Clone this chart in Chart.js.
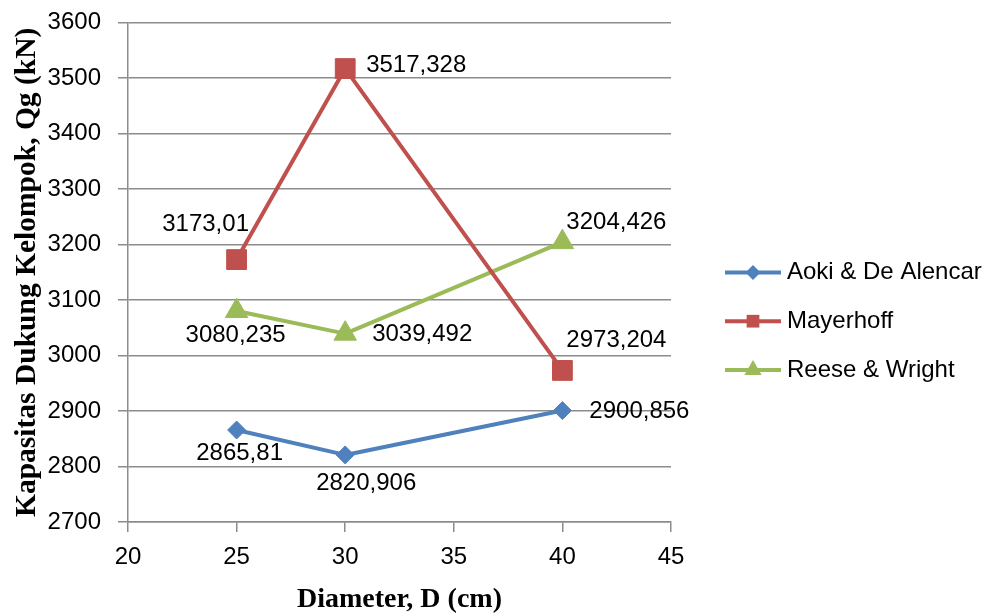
<!DOCTYPE html>
<html>
<head>
<meta charset="utf-8">
<script src="https://cdn.jsdelivr.net/npm/chart.js@4.4.1/dist/chart.umd.min.js"></script>
<style>
  html, body { margin: 0; padding: 0; background: #ffffff; }
  #wrap { width: 987px; height: 614px; }
</style>
</head>
<body>
<div id="wrap"><canvas id="chart" width="987" height="614"></canvas></div>
<script>
// Pile group capacity by pile diameter
const diameters = [25, 30, 40];
const aokiDeAlencar = [2865.81, 2820.906, 2900.856];
const mayerhoff = [3173.01, 3517.328, 2973.204];
const reeseWright = [3080.235, 3039.492, 3204.426];
const seriesNames = ['Aoki & De Alencar', 'Mayerhoff', 'Reese & Wright'];
const xTickValues = [20, 25, 30, 35, 40, 45];
const yTickValues = [2700, 2800, 2900, 3000, 3100, 3200, 3300, 3400, 3500, 3600];
const xAxisTitle = 'Diameter, D (cm)';
const yAxisTitle = 'Kapasitas Dukung Kelompok, Qg (kN)';

// Styling
const seriesValues = [aokiDeAlencar, mayerhoff, reeseWright];
const seriesColors = ['#4F81BD', '#C0504D', '#9BBB59'];
const markerStyles = ['rectRot', 'rect', 'triangle'];
const markerRadius = [9, 14, 13];
const legendMarkerRadius = [7.5, 9, 10];
const gridColor = '#8c8c8c';
const sansFont = "'Liberation Sans', Arial, sans-serif";
const serifFont = "'Liberation Serif', 'Times New Roman', serif";
// value label placement [dx, dy] from each point, text centred
const labelOffsets = [
  [[3, 23], [21, 28], [77, 1]],
  [[-31, -35], [71, -3], [54, -30]],
  [[-1, 24], [77, 1], [54, -20]]
];
const legendLayout = { lineX1: 725, lineX2: 781, textX: 787, firstY: 272.5, rowGap: 48.7 };

function formatValue(v) {
  return String(v).replace('.', ',');
}

function drawMarker(ctx, style, radius, x, y) {
  if (Chart.helpers && Chart.helpers.drawPoint) {
    Chart.helpers.drawPoint(ctx, { pointStyle: style, radius: radius, rotation: 0, borderWidth: 0 }, x, y);
    return;
  }
  ctx.beginPath();
  if (style === 'rect') {
    const s = Math.SQRT1_2 * radius;
    ctx.rect(x - s, y - s, 2 * s, 2 * s);
  } else if (style === 'rectRot') {
    ctx.moveTo(x - radius, y); ctx.lineTo(x, y - radius);
    ctx.lineTo(x + radius, y); ctx.lineTo(x, y + radius);
  } else {
    for (let k = 0; k < 3; k++) {
      const a = k * 2 * Math.PI / 3;
      const px = x + Math.sin(a) * radius, py = y - Math.cos(a) * radius;
      if (k === 0) ctx.moveTo(px, py); else ctx.lineTo(px, py);
    }
  }
  ctx.closePath();
  ctx.fill();
}

// Value labels next to each point
const valueLabels = {
  id: 'valueLabels',
  afterDatasetsDraw(chart) {
    const ctx = chart.ctx;
    ctx.save();
    ctx.font = '24px ' + sansFont;
    ctx.fillStyle = '#000000';
    ctx.textAlign = 'center';
    ctx.textBaseline = 'middle';
    chart.data.datasets.forEach((ds, i) => {
      const meta = chart.getDatasetMeta(i);
      meta.data.forEach((pt, j) => {
        const off = labelOffsets[i][j];
        ctx.fillText(formatValue(ds.data[j].y), pt.x + off[0], pt.y + off[1]);
      });
    });
    ctx.restore();
  }
};

// Legend on the right: line segment with marker, then series name
const sideLegend = {
  id: 'sideLegend',
  afterDraw(chart) {
    const ctx = chart.ctx;
    const L = legendLayout;
    ctx.save();
    chart.data.datasets.forEach((ds, i) => {
      const y = L.firstY + i * L.rowGap;
      ctx.strokeStyle = seriesColors[i];
      ctx.fillStyle = seriesColors[i];
      ctx.lineWidth = 4;
      ctx.lineCap = 'butt';
      ctx.beginPath();
      ctx.moveTo(L.lineX1, y);
      ctx.lineTo(L.lineX2, y);
      ctx.stroke();
      drawMarker(ctx, markerStyles[i], legendMarkerRadius[i], (L.lineX1 + L.lineX2) / 2, y);
      ctx.fillStyle = '#000000';
      ctx.font = '24px ' + sansFont;
      ctx.textAlign = 'left';
      ctx.textBaseline = 'middle';
      ctx.fillText(ds.label, L.textX, y);
    });
    ctx.restore();
  }
};

const datasets = seriesValues.map((vals, i) => ({
  label: seriesNames[i],
  data: diameters.map((d, k) => ({ x: d, y: vals[k] })),
  borderColor: seriesColors[i],
  backgroundColor: seriesColors[i],
  borderWidth: 4,
  borderJoinStyle: 'round',
  borderCapStyle: 'round',
  tension: 0,
  pointStyle: markerStyles[i],
  pointRadius: markerRadius[i],
  pointHoverRadius: markerRadius[i],
  pointBorderWidth: 1,
  pointBorderColor: seriesColors[i],
  pointBackgroundColor: seriesColors[i]
}));

new Chart(document.getElementById('chart'), {
  type: 'line',
  data: { datasets: datasets },
  options: {
    responsive: false,
    animation: false,
    devicePixelRatio: 1,
    layout: { padding: { top: 22.7, right: 316, bottom: 0, left: 0 } },
    plugins: {
      legend: { display: false },
      tooltip: { enabled: false }
    },
    scales: {
      x: {
        type: 'linear',
        min: xTickValues[0],
        max: xTickValues[xTickValues.length - 1],
        afterBuildTicks: s => { s.ticks = xTickValues.map(v => ({ value: v })); },
        afterFit: s => { s.height = 92; },
        ticks: {
          font: { family: sansFont, size: 24 }, color: '#000000', padding: 11,
          maxRotation: 0, autoSkip: false, callback: v => String(v)
        },
        grid: { drawOnChartArea: false, drawTicks: true, tickLength: 10, color: gridColor, lineWidth: 1.5 },
        border: { display: true, color: gridColor, width: 1.5 },
        title: {
          display: true, text: xAxisTitle, color: '#000000',
          font: { family: serifFont, size: 28, weight: 'bold', lineHeight: 1 },
          padding: { top: 0, bottom: 0 }
        }
      },
      y: {
        type: 'linear',
        min: yTickValues[0],
        max: yTickValues[yTickValues.length - 1],
        afterBuildTicks: s => { s.ticks = yTickValues.map(v => ({ value: v })); },
        afterFit: s => { s.width = 128; s.paddingTop = 0; s.paddingBottom = 0; },
        ticks: {
          font: { family: sansFont, size: 24 }, color: '#000000', padding: 17,
          autoSkip: false, callback: v => String(v)
        },
        grid: { drawOnChartArea: true, drawTicks: true, tickLength: 10, color: gridColor, lineWidth: 1.5 },
        border: { display: true, color: gridColor, width: 1.5 },
        title: {
          display: true, text: yAxisTitle, color: '#000000',
          font: { family: serifFont, size: 29.5, weight: 'bold', lineHeight: 1.2 },
          padding: { top: 10, bottom: 0 }
        }
      }
    }
  },
  plugins: [valueLabels, sideLegend]
});
</script>
</body>
</html>
